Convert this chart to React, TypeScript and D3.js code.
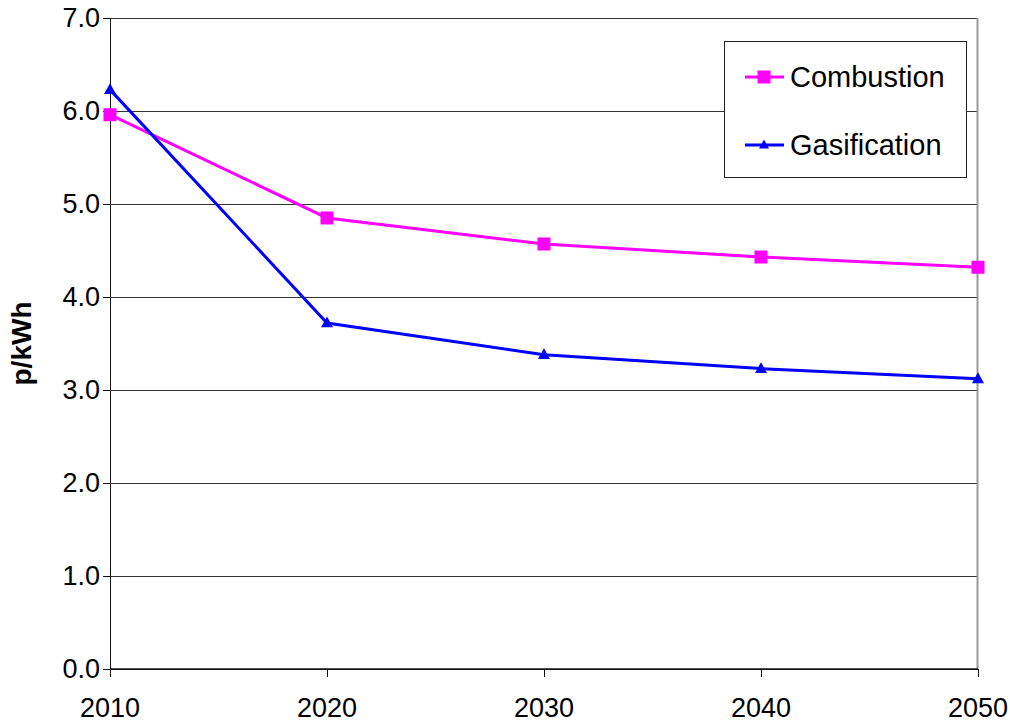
import React from 'react';
import * as d3 from 'd3';

const years = [2010, 2020, 2030, 2040, 2050];
const combustion = [5.96, 4.85, 4.57, 4.43, 4.32];
const gasification = [6.23, 3.72, 3.38, 3.23, 3.12];
const yTicks = [0, 1, 2, 3, 4, 5, 6, 7];

const series = [
	{ name: 'Combustion', values: combustion, color: '#ff00ff', marker: 'square' },
	{ name: 'Gasification', values: gasification, color: '#0000ff', marker: 'triangle' },
];

export default function App() {
	const svgWidth = 1010;
	const svgHeight = 723;
	const margin = { top: 18, right: 32, bottom: 54, left: 110 };
	const width = 978 - margin.left;
	const height = 669 - margin.top;

	const xScale = d3.scaleLinear().domain([2010, 2050]).range([0, width]);
	const yScale = d3.scaleLinear().domain([0, 7]).range([height, 0]);
	// snap grid lines onto whole pixels so they stay crisp
	const crisp = (v: number) => Math.round(v) + 0.5;

	const line = d3
		.line<number>()
		.x((d, i) => xScale(years[i]))
		.y((d) => yScale(d));

	const font = 'Arial, "Liberation Sans", sans-serif';

	const marker = (type: string, x: number, y: number, color: string, size: number) => {
		if (type === 'square') {
			return <rect x={x - size / 2} y={y - size / 2} width={size} height={size} fill={color} />;
		}
		const h = size * 0.9;
		return (
			<path
				d={`M${x},${y - h * 0.6} L${x + size / 2},${y + h * 0.4} L${x - size / 2},${y + h * 0.4} Z`}
				fill={color}
			/>
		);
	};

	return (
		<svg
			width={svgWidth}
			height={svgHeight}
			style={{ position: 'absolute', left: 0, top: 0, background: '#fff' }}
		>
			<g transform={`translate(${margin.left},${margin.top})`}>
				{/* gridlines */}
				{yTicks.map((t) => (
					<line key={t} x1={0} x2={width} y1={crisp(yScale(t))} y2={crisp(yScale(t))} stroke="#333" strokeWidth={1} />
				))}
				{/* right border */}
				<line x1={width - 0.5} x2={width - 0.5} y1={0} y2={height} stroke="#999" strokeWidth={2} />
				{/* y axis */}
				<line x1={0.5} x2={0.5} y1={0} y2={height} stroke="#111" strokeWidth={1} />
				{yTicks.map((t) => (
					<g key={'y' + t}>
						<line x1={-7} x2={0} y1={crisp(yScale(t))} y2={crisp(yScale(t))} stroke="#111" />
						<text
							x={-10}
							y={yScale(t)}
							dy="0.35em"
							textAnchor="end"
							fontFamily={font}
							fontSize={27}
							fill="#000"
						>
							{t.toFixed(1)}
						</text>
					</g>
				))}
				{/* x axis */}
				<line x1={0} x2={width} y1={height} y2={height} stroke="#111" strokeWidth={1.5} />
				{years.map((yr) => (
					<g key={'x' + yr}>
						<line x1={crisp(xScale(yr))} x2={crisp(xScale(yr))} y1={height} y2={height + 8} stroke="#111" />
						<text
							x={xScale(yr)}
							y={height + 48}
							textAnchor="middle"
							fontFamily={font}
							fontSize={27}
							fill="#000"
						>
							{yr}
						</text>
					</g>
				))}
				<text
					transform={`translate(${-79},${yScale(3.5)}) rotate(-90)`}
					textAnchor="middle"
					fontFamily={font}
					fontSize={28}
					fontWeight="bold"
					fill="#000"
				>
					p/kWh
				</text>

				{/* series */}
				{series.map((s) => (
					<g key={s.name}>
						<path d={line(s.values) || ''} fill="none" stroke={s.color} strokeWidth={3} />
						{s.values.map((v, i) => (
							<g key={i}>{marker(s.marker, xScale(years[i]), yScale(v), s.color, s.marker === 'square' ? 13 : 12)}</g>
						))}
					</g>
				))}
			</g>

			{/* legend */}
			<g transform="translate(724,41)">
				<rect x={0.5} y={0.5} width={242} height={136} fill="#fff" stroke="#222" strokeWidth={1} />
				{series.map((s, i) => (
					<g key={s.name} transform={`translate(0,${36 + i * 68})`}>
						<line x1={21} x2={60} y1={0} y2={0} stroke={s.color} strokeWidth={3} />
						{marker(s.marker, 40, 0, s.color, s.marker === 'square' ? 13 : 10)}
						<text x={66} y={0} dy="0.35em" fontFamily={font} fontSize={29} fill="#000">
							{s.name}
						</text>
					</g>
				))}
			</g>
		</svg>
	);
}
